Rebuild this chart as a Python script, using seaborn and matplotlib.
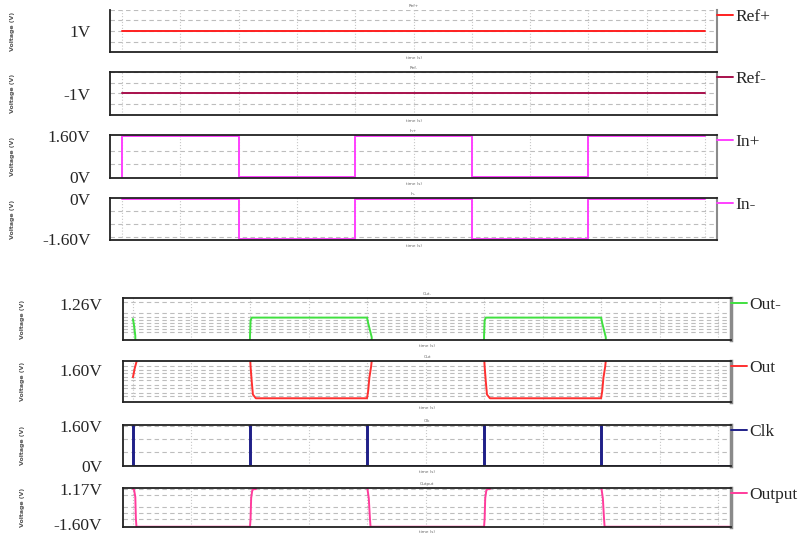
import numpy as np
import pandas as pd
import matplotlib
matplotlib.use("Agg")
import matplotlib.pyplot as plt
import matplotlib.transforms as mtransforms
import seaborn as sns
from matplotlib.ticker import MultipleLocator

sns.set_style("white")
plt.rcParams["font.family"] = ["Liberation Serif", "DejaVu Serif"]

W, H = 811, 535

# ---- waveform data (time in grid divisions, value in volts) ----
ref_p_t = [0.0, 10.0]
ref_p_v = [1.0, 1.0]

ref_n_t = [0.0, 10.0]
ref_n_v = [-1.0, -1.0]

in_p_t = [0.0, 0.0, 2.0, 2.0, 4.0, 4.0, 6.0, 6.0, 8.0, 8.0, 10.0]
in_p_v = [0.0, 1.6, 1.6, 0.0, 0.0, 1.6, 1.6, 0.0, 0.0, 1.6, 1.6]

in_n_t = [0.0, 2.0, 2.0, 4.0, 4.0, 6.0, 6.0, 8.0, 8.0, 10.0]
in_n_v = [0.0, 0.0, -1.6, -1.6, 0.0, 0.0, -1.6, -1.6, 0.0, 0.0]

out_n_t = [0.0, 0.02, 0.04, 0.05, 1.99, 2.0, 2.01, 2.03, 4.0, 4.02, 4.08, 4.09,
           5.99, 6.0, 6.01, 6.03, 8.0, 8.02, 8.08, 8.09, 10.2]
out_n_v = [1.15, 1.10, 1.03, 0.6, 0.6, 1.03, 1.14, 1.16, 1.16, 1.12, 1.02, 0.6,
           0.6, 1.03, 1.14, 1.16, 1.16, 1.12, 1.02, 0.6, 0.6]

out_t = [0.0, 0.03, 0.06, 0.08, 2.0, 2.01, 2.03, 2.05, 2.1, 4.0, 4.02, 4.04, 4.07, 4.09,
         6.0, 6.01, 6.03, 6.05, 6.1, 8.0, 8.02, 8.04, 8.07, 8.09, 10.2]
out_v = [1.23, 1.7, 2.05, 2.4, 2.4, 1.8, 1.0, 0.3, 0.1, 0.1, 0.5, 1.2, 1.8, 2.4,
         2.4, 1.8, 1.0, 0.3, 0.1, 0.1, 0.5, 1.2, 1.8, 2.4, 2.4]

clk_t = [0.0, 0.0, 0.01, 0.01, 2.0, 2.0, 2.01, 2.01, 4.0, 4.0, 4.02, 4.02,
         6.0, 6.0, 6.01, 6.01, 8.0, 8.0, 8.01, 8.01, 10.2]
clk_v = [0.0, 1.6, 1.6, 0.0, 0.0, 1.6, 1.6, 0.0, 0.0, 1.6, 1.6, 0.0,
         0.0, 1.6, 1.6, 0.0, 0.0, 1.6, 1.6, 0.0, 0.0]

outp_t = [0.0, 0.02, 0.04, 0.05, 0.06, 2.0, 2.01, 2.02, 2.04, 2.07, 2.1, 2.11,
          4.0, 4.01, 4.03, 4.05, 4.06, 6.0, 6.01, 6.02, 6.04, 6.07, 6.1, 6.11,
          8.0, 8.01, 8.03, 8.05, 8.06, 10.2]
outp_v = [1.2, 1.1, 0.6, -1.0, -1.6, -1.6, -1.0, 0.5, 1.1, 1.17, 1.17, 1.4,
          1.4, 1.1, 0.5, -1.0, -1.6, -1.6, -1.0, 0.5, 1.1, 1.17, 1.17, 1.4,
          1.4, 1.1, 0.5, -1.0, -1.6, -1.6]

names = ["Ref+", "Ref-", "In+", "In-", "Out-", "Out", "Clk", "Output"]
times = [ref_p_t, ref_n_t, in_p_t, in_n_t, out_n_t, out_t, clk_t, outp_t]
values = [ref_p_v, ref_n_v, in_p_v, in_n_v, out_n_v, out_v, clk_v, outp_v]
colors = ["#ff2020", "#a8104c", "#ff40ff", "#ff40ff",
          "#40e040", "#ff3030", "#202088", "#ff3c9c"]

tick_vals = [[1.0], [-1.0], [0.0, 1.6], [0.0, -1.6],
             [1.26], [1.6], [0.0, 1.6], [1.17, -1.6]]
tick_text = [["1V"], ["-1V"], ["0V", "1.60V"], ["0V", "-1.60V"],
             ["1.26V"], ["1.60V"], ["0V", "1.60V"], ["1.17V", "-1.60V"]]

# ---- layout / styling ----
boxes = [(110, 10, 717, 52), (110, 72, 717, 115), (110, 135, 717, 178), (110, 198, 717, 240),
         (123, 298, 731, 340), (123, 361, 731, 402), (123, 425, 731, 466), (123, 488, 731, 527)]
ylims = [(0.8, 1.2), (-1.2, -0.8), (-0.03, 1.63), (-1.63, 0.03),
         (1.0, 1.30), (-0.1, 2.1), (0.0, 1.65), (-1.62, 1.25)]
grids = [[0.8, 0.9, 1.0, 1.1, 1.2], [-1.2, -1.1, -1.0, -0.9, -0.8],
         [0.5, 1.0], [-0.5, -1.0, -1.5],
         [1.19, 1.165, 1.14, 1.12, 1.10, 1.08, 1.06, 1.27],
         [1.82, 1.6, 1.44, 1.23, 1.06, 0.8, 0.64, 0.37, 0.21],
         [0.55, 1.1, 1.6], [1.17, 0.73, -0.15, -0.6, -1.05]]
minor_step = [0.02, 0.02, 0.1, 0.1, 0.01, 0.08, 0.1, 0.1]

fig = plt.figure(figsize=(W / 100, H / 100), dpi=100)

for i in range(8):
    l, t, r, b = boxes[i]
    ax = fig.add_axes([l / W, 1 - b / H, (r - l) / W, (b - t) / H])
    top_group = i < 4
    xlim = (-0.206, 10.206) if top_group else (-0.17, 10.22)

    df = pd.DataFrame({"t": times[i], "v": values[i]})
    sns.lineplot(data=df, x="t", y="v", ax=ax, color=colors[i], lw=1.4,
                 sort=False, estimator=None, label=names[i])

    ax.set_xlim(*xlim)
    ax.set_ylim(*ylims[i])
    for g in grids[i]:
        ax.axhline(g, color="#bdbdbd", lw=0.8, ls=(0, (4, 3)), zorder=0)
    ax.set_xticks(np.arange(0, 11))
    ax.set_xticklabels([])
    ax.grid(axis="x", color="#c8c8c8", lw=0.8, ls=":")
    ax.tick_params(axis="x", length=2, width=1.2, color="#c07020", pad=0)
    if top_group:
        ax.xaxis.set_minor_locator(MultipleLocator(0.5))
        ax.tick_params(axis="x", which="minor", length=1.5, width=1, color="#555")

    ax.set_yticks(tick_vals[i])
    ax.set_yticklabels(tick_text[i], fontsize=12.5)
    ax.yaxis.set_minor_locator(MultipleLocator(minor_step[i]))
    ax.tick_params(axis="y", which="major", length=6, width=1.2, color="#222",
                   pad=8 if top_group else 9)
    ax.tick_params(axis="y", which="minor", length=3, width=0.9, color="#222")
    if i == 7:
        lift = mtransforms.ScaledTranslation(0, 3 / 100, fig.dpi_scale_trans)
        lab = ax.get_yticklabels()[1]
        lab.set_transform(lab.get_transform() + lift)

    ax.set_xlabel("")
    ax.set_ylabel("Voltage (V)", fontsize=4.5, color="#555", family="DejaVu Sans",
                  fontweight="bold")
    ax.yaxis.set_label_coords(-0.156 if top_group else -0.161, 0.5)

    for side in ["left", "bottom", "top"]:
        ax.spines[side].set_color("#222")
        ax.spines[side].set_linewidth(1.3)
    ax.spines["right"].set_color("#8a8a8a")
    ax.spines["right"].set_linewidth(1.5 if top_group else 2.5)
    if i == 0:
        ax.spines["top"].set_visible(False)

    ax.text(0.5, -0.14, "time (s)", transform=ax.transAxes, fontsize=3,
            color="#666", ha="center", va="center", family="DejaVu Sans")
    ax.text(0.5, 1.1, names[i], transform=ax.transAxes, fontsize=3,
            color="#666", ha="center", va="center", family="DejaVu Sans")

    ax.legend(loc="upper left", bbox_to_anchor=(1.0, 1.03), frameon=False,
              handlelength=0.9, handletextpad=0.15, borderaxespad=0,
              borderpad=0, fontsize=12.5)

fig.savefig("out.png", dpi=100)
